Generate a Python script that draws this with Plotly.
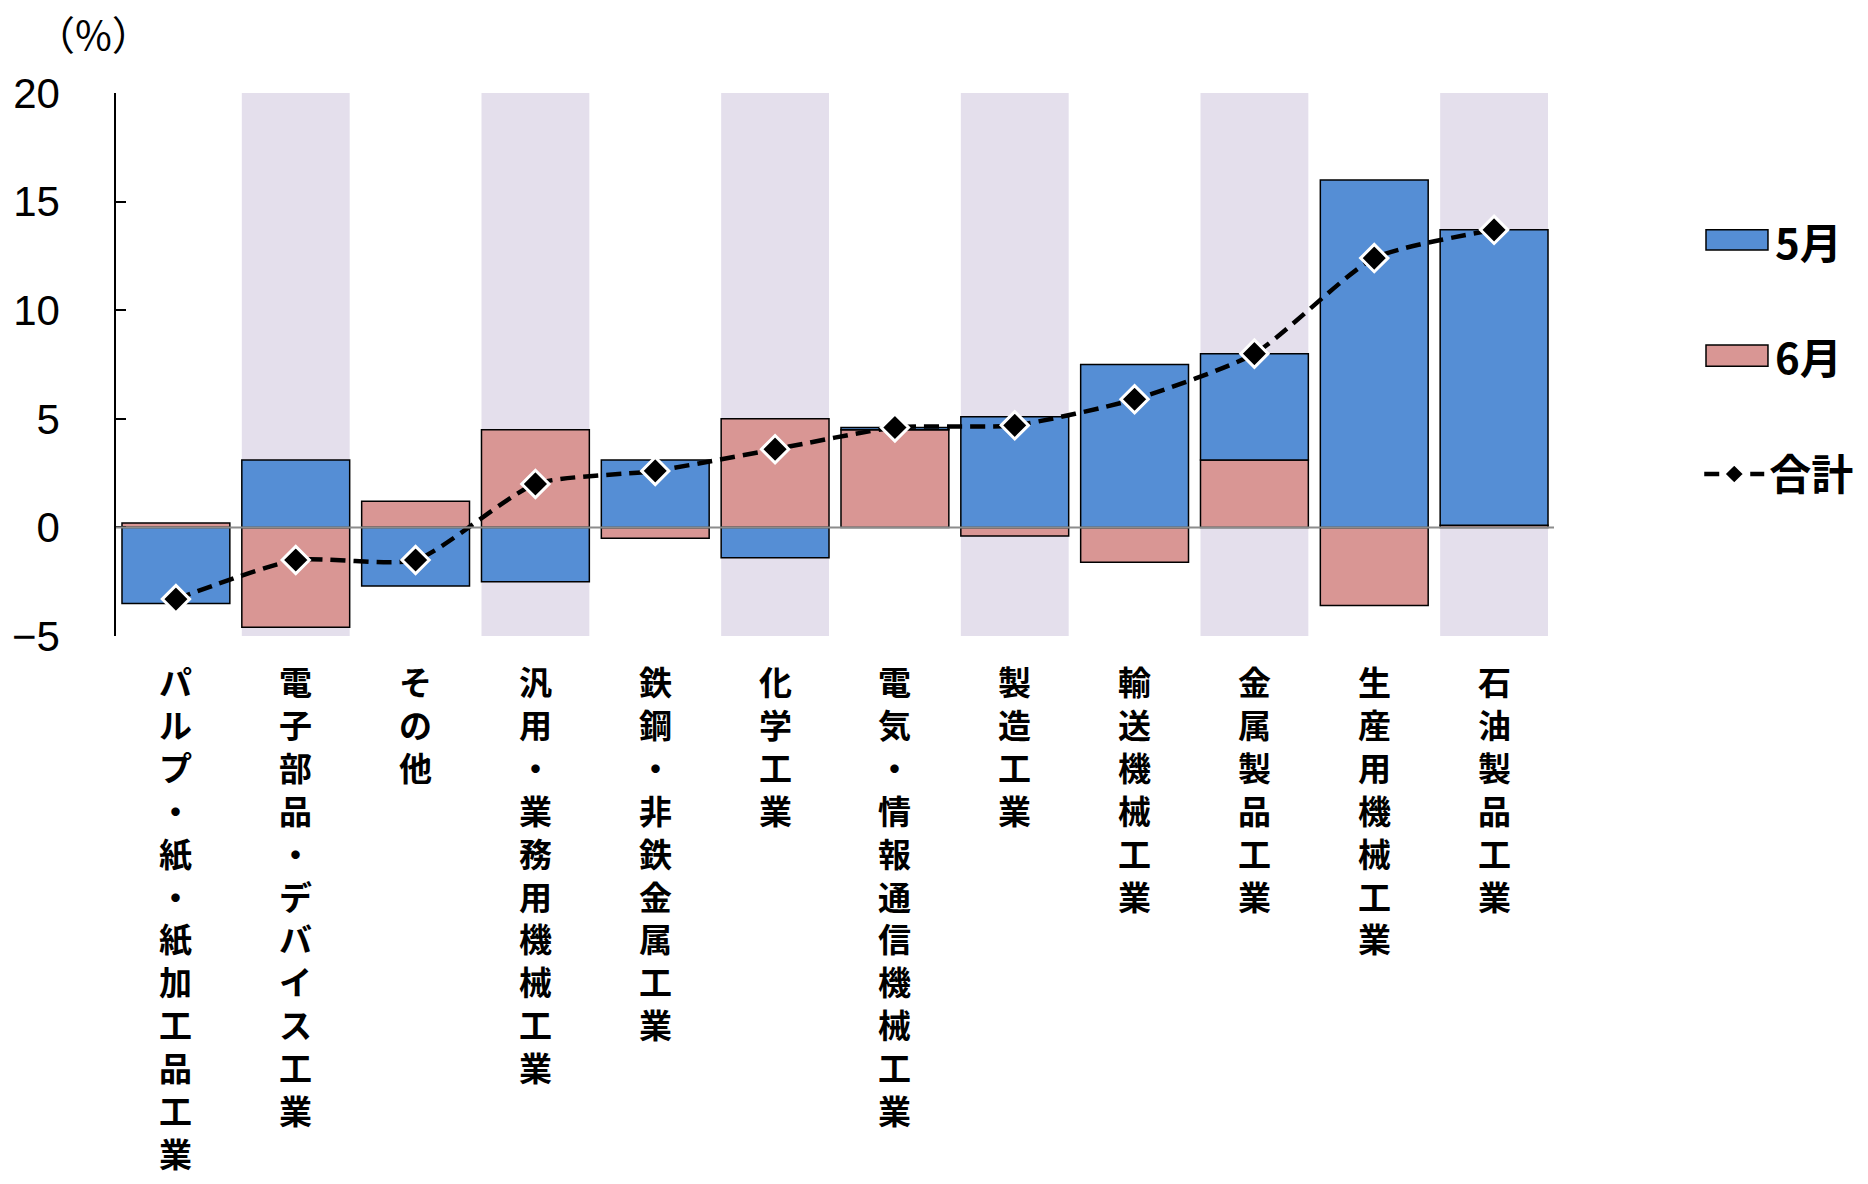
import plotly.graph_objects as go

categories = ["パルプ・紙・紙加工品工業", "電子部品・デバイス工業", "その他", "汎用・業務用機械工業",
              "鉄鋼・非鉄金属工業", "化学工業", "電気・情報通信機械工業", "製造工業",
              "輸送機械工業", "金属製品工業", "生産用機械工業", "石油製品工業"]
may_vals = [-3.5, 3.1, -2.7, -2.5, 3.1, -1.4, 0.1, 5.1, 7.5, 4.9, 16.0, 13.6]
jun_vals = [0.2, -4.6, 1.2, 4.5, -0.5, 5.0, 4.5, -0.4, -1.6, 3.1, -3.6, 0.1]
total_vals = [-3.3, -1.5, -1.5, 2.0, 2.6, 3.6, 4.6, 4.7, 5.9, 8.0, 12.4, 13.7]
y_ticks = [-5, 0, 5, 10, 15, 20]
y_tick_text = ["−5", "0", "5", "10", "15", "20"]
series_names = ["5月", "6月", "合計"]

BLUE = "#558ED5"
PINK = "#D99694"
BAND = "#E4DFEC"
JP = "Noto Sans CJK JP"
LABEL_FONT = "DejaVu Sans, Noto Sans CJK JP"

fig = go.Figure()
fig.add_trace(go.Bar(x=categories, y=jun_vals, name=series_names[1],
                     marker=dict(color=PINK, line=dict(color="black", width=1.5)), showlegend=False))
fig.add_trace(go.Bar(x=categories, y=may_vals, name=series_names[0],
                     marker=dict(color=BLUE, line=dict(color="black", width=1.5)), showlegend=False))
fig.add_trace(go.Scatter(x=categories, y=total_vals, name=series_names[2], mode="lines+markers",
                         line=dict(color="black", width=4.5, dash="15px,8px", shape="spline", smoothing=0.6),
                         marker=dict(symbol="diamond", size=21, color="black", line=dict(color="white", width=3))))

shapes = []
for i in range(len(categories)):
    if i % 2 == 1:
        shapes.append(dict(type="rect", xref="x", yref="y", x0=i - 0.45, x1=i + 0.45, y0=-5, y1=20,
                           fillcolor=BAND, line=dict(width=0), layer="below"))
shapes.append(dict(type="line", xref="paper", yref="y", x0=0, x1=1, y0=0, y1=0,
                   line=dict(color="#8C8C8C", width=2), layer="above"))
# legend swatches for the bar series
shapes.append(dict(type="rect", xref="paper", yref="paper", x0=1.1057, x1=1.1488, y0=0.711, y1=0.748,
                   fillcolor=BLUE, line=dict(color="black", width=1.5)))
shapes.append(dict(type="rect", xref="paper", yref="paper", x0=1.1057, x1=1.1488, y0=0.497, y1=0.536,
                   fillcolor=PINK, line=dict(color="black", width=1.5)))

annotations = []
for i, label in enumerate(categories):
    annotations.append(dict(x=i, xref="x", y=0, yref="paper", yanchor="top", xanchor="center",
                            yshift=-26, text="<br>".join(list(label)), showarrow=False,
                            font=dict(family=LABEL_FONT, size=33, color="black", weight="bold")))
annotations.append(dict(x=-0.058, xref="paper", y=1.11, yref="paper", xanchor="left", yanchor="middle",
                        text="（%）", showarrow=False, font=dict(family=JP, size=40, color="black")))
annotations.append(dict(x=1.152, xref="paper", y=0.729, yref="paper", xanchor="left", yanchor="middle",
                        text=series_names[0], showarrow=False,
                        font=dict(family=JP, size=42, color="black", weight="bold")))
annotations.append(dict(x=1.152, xref="paper", y=0.516, yref="paper", xanchor="left", yanchor="middle",
                        text=series_names[1], showarrow=False,
                        font=dict(family=JP, size=42, color="black", weight="bold")))

fig.update_layout(
    width=1868, height=1184,
    margin=dict(l=116, r=314, t=93, b=548, autoexpand=False),
    paper_bgcolor="white", plot_bgcolor="white",
    barmode="relative", bargap=0.1,
    shapes=shapes, annotations=annotations,
    showlegend=True,
    legend=dict(x=1.101, y=0.298, xanchor="left", yanchor="middle", itemwidth=60,
                font=dict(family=JP, size=42, color="black", weight="bold"), bgcolor="rgba(0,0,0,0)"),
    xaxis=dict(showticklabels=False, showline=False, ticks="", showgrid=False, zeroline=False,
               range=[-0.5, len(categories) - 0.5]),
    yaxis=dict(range=[-5, 20], tickvals=y_ticks, ticktext=y_tick_text, showgrid=False, zeroline=False,
               showline=True, linecolor="black", linewidth=1.5, ticks="inside", ticklen=10,
               tickcolor="black", tickwidth=1.5, ticklabelstandoff=46,
               tickfont=dict(family="Liberation Sans", size=42, color="black")),
)

fig.write_html("out.html")
